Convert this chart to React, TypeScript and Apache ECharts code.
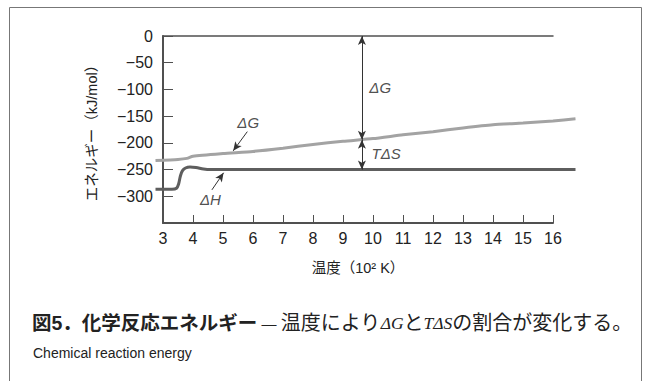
import React, { useEffect, useRef } from "react";
import * as echarts from "echarts";

// Temperature (10^2 K) and energies (kJ/mol)
const tempG = [2.75, 3.5, 3.8, 4.0, 5, 6, 7, 8, 9, 10, 11, 12, 13, 14, 15, 16, 16.75];
const deltaG = [-233, -231, -229, -225, -220, -216, -210, -203, -197, -192, -185, -179, -172, -166, -163, -159, -155];
const tempH = [2.75, 3.3, 3.45, 3.52, 3.58, 3.65, 3.75, 3.9, 4.1, 4.35, 4.6, 16.75];
const deltaH = [-287, -287, -285, -277, -262, -252, -247, -245, -246, -249, -250, -250];

const xTicks = [3, 16];
const dataRange = [2.75, 16.75];
const yRange = [-350, 0];

// annotation anchors [T, energy]
const arrowT = 9.63;
const gAtArrow = -194;
const hAtArrow = -250;
const labelPoints: [number, number, string][] = [
  [10.24, -97, "ΔG"],
  [10.44, -219, "TΔS"],
  [5.84, -162, "ΔG"],
  [4.58, -306, "ΔH"],
];
const leaderG = [[5.81, -179], [5.34, -215]];
const leaderH = [[4.63, -288], [5.02, -256]];

const SANS = "'Liberation Sans', 'Noto Sans CJK JP', sans-serif";
const SERIF = "'Liberation Serif', 'Noto Sans CJK JP', serif";

export default function App() {
  const ref = useRef<HTMLDivElement>(null);
  useEffect(() => {
    if (!ref.current) return;
    const chart = echarts.init(ref.current, null, { renderer: "svg" });
    const axisColor = "#505050";
    const pxPerUnit = 30;
    const gridLeft = 163;
    const gridWidth = (xTicks[1] - xTicks[0]) * pxPerUnit;
    chart.setOption({
      animation: false,
      backgroundColor: "#ffffff",
      grid: [
        { left: gridLeft, top: 36, width: gridWidth, height: 187, containLabel: false },
        {
          left: gridLeft - (xTicks[0] - dataRange[0]) * pxPerUnit,
          top: 36,
          width: (dataRange[1] - dataRange[0]) * pxPerUnit,
          height: 187,
          containLabel: false,
        },
      ],
      xAxis: [
        {
          type: "value",
          gridIndex: 0,
          min: xTicks[0],
          max: xTicks[1],
          interval: 1,
          name: "温度（10² K）",
          nameLocation: "middle",
          nameGap: 38,
          nameTextStyle: { fontFamily: SANS, fontSize: 14.5, color: "#222" },
          axisLine: { show: true, onZero: false, lineStyle: { color: axisColor, width: 2 } },
          axisTick: { show: true, inside: true, length: 8, lineStyle: { color: axisColor, width: 1 } },
          axisLabel: { fontFamily: SANS, fontSize: 16, color: "#222", margin: 7 },
          splitLine: { show: false },
        },
        {
          type: "value",
          gridIndex: 0,
          position: "top",
          min: xTicks[0],
          max: xTicks[1],
          interval: 1,
          axisLine: { show: true, onZero: false, lineStyle: { color: axisColor, width: 1.5 } },
          axisTick: { show: false },
          axisLabel: { show: false },
          splitLine: { show: false },
        },
        {
          type: "value",
          gridIndex: 1,
          min: dataRange[0],
          max: dataRange[1],
          show: false,
        },
      ],
      yAxis: [
        {
          type: "value",
          gridIndex: 0,
          min: yRange[0],
          max: yRange[1],
          interval: 50,
          name: "エネルギー（kJ/mol）",
          nameLocation: "middle",
          nameGap: 64,
          nameRotate: 90,
          nameTextStyle: { fontFamily: SANS, fontSize: 14.5, color: "#222" },
          axisLine: { show: true, onZero: false, lineStyle: { color: axisColor, width: 2 } },
          axisTick: { show: true, inside: true, length: 10, lineStyle: { color: axisColor, width: 1 } },
          axisLabel: {
            fontFamily: SANS,
            fontSize: 16,
            color: "#222",
            margin: 10,
            formatter: (v: number) => (v === yRange[0] ? "" : v === 0 ? "0" : "\u2212" + Math.abs(v)),
          },
          splitLine: { show: false },
        },
        {
          type: "value",
          gridIndex: 1,
          min: yRange[0],
          max: yRange[1],
          show: false,
        },
      ],
      series: [
        {
          type: "line",
          name: "ΔG",
          xAxisIndex: 2,
          yAxisIndex: 1,
          data: tempG.map((t, i) => [t, deltaG[i]]),
          showSymbol: false,
          clip: false,
          smooth: 0.2,
          silent: true,
          lineStyle: { color: "#a3a3a3", width: 3 },
          markLine: {
            silent: true,
            animation: false,
            label: { show: false },
            lineStyle: { color: "#333", width: 1, type: "solid" },
            symbolSize: [6, 9],
            data: [
              [
                { coord: [arrowT, 0], symbol: "arrow" },
                { coord: [arrowT, gAtArrow], symbol: "arrow" },
              ],
              [
                { coord: [arrowT, gAtArrow], symbol: "arrow" },
                { coord: [arrowT, hAtArrow], symbol: "arrow" },
              ],
              [
                { coord: leaderG[0], symbol: "none" },
                { coord: leaderG[1], symbol: "arrow" },
              ],
              [
                { coord: leaderH[0], symbol: "none" },
                { coord: leaderH[1], symbol: "arrow" },
              ],
            ],
          },
        },
        {
          type: "line",
          name: "ΔH",
          xAxisIndex: 2,
          yAxisIndex: 1,
          data: tempH.map((t, i) => [t, deltaH[i]]),
          showSymbol: false,
          clip: false,
          smooth: 0.35,
          silent: true,
          lineStyle: { color: "#5e5e5e", width: 3 },
        },
        {
          type: "scatter",
          xAxisIndex: 0,
          yAxisIndex: 0,
          data: labelPoints.map((p) => [p[0], p[1], p[2]]),
          symbolSize: 0,
          silent: true,
          label: {
            show: true,
            position: "inside",
            formatter: (p: any) => p.data[2],
            fontFamily: SANS,
            fontStyle: "italic",
            fontSize: 15,
            color: "#222",
          },
        },
      ],
      graphic: [
        {
          type: "rect",
          shape: { x: 9.5, y: 7.5, width: 632, height: 420 },
          style: { fill: "none", stroke: "#777", lineWidth: 1 },
          silent: true,
        },
        {
          type: "text",
          x: 32,
          y: 323,
          style: {
            text:
              "{b|図5．化学反応エネルギー}{d| — }{s|温度により}{i|ΔG}{s|と}{i|TΔS}{s|の割合が変化する。}",
            verticalAlign: "middle",
            fill: "#222",
            rich: {
              b: { fontFamily: SANS, fontWeight: "bold", fontSize: 19.5, fill: "#222" },
              d: { fontFamily: SANS, fontSize: 15, fill: "#222" },
              s: { fontFamily: SERIF, fontSize: 20, fill: "#222" },
              i: {
                fontFamily: "'Liberation Serif', serif",
                fontStyle: "italic",
                fontSize: 17.5,
                fill: "#222",
              },
            },
          },
          silent: true,
        },
        {
          type: "text",
          x: 33,
          y: 353,
          style: {
            text: "Chemical reaction energy",
            fontFamily: SANS,
            fontSize: 14,
            fill: "#222",
            verticalAlign: "middle",
          },
          silent: true,
        },
      ],
    });
    return () => chart.dispose();
  }, []);
  return (
    <div
      ref={ref}
      style={{ position: "absolute", left: 0, top: 0, width: 653, height: 381, background: "#fff" }}
    />
  );
}
